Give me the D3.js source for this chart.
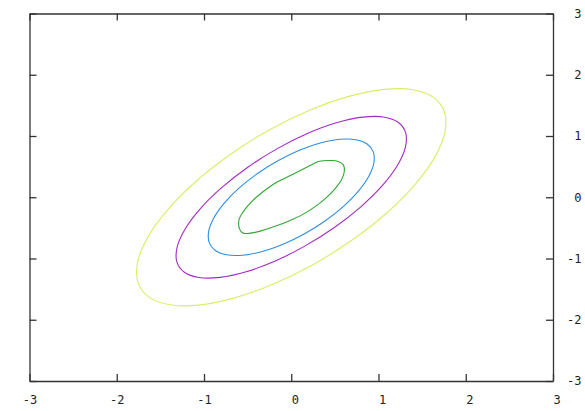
<!DOCTYPE html>
<html>
<head>
<meta charset="utf-8">
<script src="https://cdn.jsdelivr.net/npm/d3@7"></script>
<style>
  body { margin: 0; background: #fff; }
  svg { display: block; }
  .tick text { font-family: "DejaVu Sans Mono", monospace; font-size: 12px; fill: #222; }
</style>
</head>
<body>
<div id="chart"></div>
<script>
// tick values (same on both axes)
const xTicks = [-3, -2, -1, 0, 1, 2, 3];
const yTicks = [-3, -2, -1, 0, 1, 2, 3];

// contour lines, [x, y] in data units
const contourYellow = [
  [1.631, 1.631], [1.394, 1.756], [1.063, 1.761], [0.659, 1.647], [0.211, 1.420], [-0.253, 1.097],
  [-0.698, 0.698], [-1.097, 0.253], [-1.420, -0.211], [-1.647, -0.659], [-1.761, -1.063], [-1.756, -1.394],
  [-1.631, -1.631], [-1.394, -1.756], [-1.063, -1.761], [-0.659, -1.647], [-0.211, -1.420], [0.253, -1.097],
  [0.698, -0.698], [1.097, -0.253], [1.420, 0.211], [1.647, 0.659], [1.761, 1.063], [1.756, 1.394]
];
const contourPurple = [
  [1.225, 1.225], [1.055, 1.311], [0.814, 1.308], [0.517, 1.216], [0.184, 1.041], [-0.160, 0.794],
  [-0.494, 0.494], [-0.794, 0.160], [-1.041, -0.184], [-1.216, -0.517], [-1.308, -0.814], [-1.311, -1.055],
  [-1.225, -1.225], [-1.055, -1.311], [-0.814, -1.308], [-0.517, -1.216], [-0.184, -1.041], [0.160, -0.794],
  [0.494, -0.494], [0.794, -0.160], [1.041, 0.184], [1.216, 0.517], [1.308, 0.814], [1.311, 1.055]
];
const contourBlue = [
  [0.870, 0.870], [0.740, 0.940], [0.560, 0.947], [0.342, 0.889], [0.100, 0.770], [-0.148, 0.599],
  [-0.387, 0.387], [-0.599, 0.148], [-0.770, -0.100], [-0.889, -0.342], [-0.947, -0.560], [-0.940, -0.740],
  [-0.870, -0.870], [-0.740, -0.940], [-0.560, -0.947], [-0.342, -0.889], [-0.100, -0.770], [0.148, -0.599],
  [0.387, -0.387], [0.599, -0.148], [0.770, 0.100], [0.889, 0.342], [0.947, 0.560], [0.940, 0.740]
];
const contourGreen = [
  [0.31, 0.583], [0.464, 0.60], [0.539, 0.583], [0.597, 0.529], [0.608, 0.42], [0.579, 0.292],
  [0.501, 0.137], [0.387, -0.026], [0.261, -0.165], [0.123, -0.288], [-0.026, -0.386], [-0.186, -0.475],
  [-0.347, -0.549], [-0.484, -0.590], [-0.555, -0.585], [-0.593, -0.516], [-0.599, -0.369], [-0.55, -0.234],
  [-0.453, -0.07], [-0.32, 0.093], [-0.186, 0.23], [-0.034, 0.338], [0.12, 0.448], [0.234, 0.529]
];

const contours = [
  { points: contourYellow, color: "#d8ee66" },
  { points: contourPurple, color: "#a22ac6" },
  { points: contourBlue, color: "#2f8edc" },
  { points: contourGreen, color: "#2fa832" }
];

const W = 585, H = 411;
const m = { left: 29.5, right: 553, top: 13.5, bottom: 381 };

const svg = d3.select("#chart").append("svg")
  .attr("width", W)
  .attr("height", H);

const x = d3.scaleLinear().domain([-3, 3]).range([m.left, m.right]);
const y = d3.scaleLinear().domain([-3, 3]).range([m.bottom, m.top]);

// contours
const line = d3.line()
  .x((d) => x(d[0]))
  .y((d) => y(d[1]))
  .curve(d3.curveCatmullRomClosed.alpha(0.5));

svg.selectAll("path.contour")
  .data(contours)
  .join("path")
  .attr("class", "contour")
  .attr("d", (d) => line(d.points))
  .attr("fill", "none")
  .attr("stroke", (d) => d.color)
  .attr("stroke-width", 1.1);

// axes, ticks pointing inward
const fmt = (d) => (d < 0 ? "-" + Math.abs(d) : String(d));

svg.append("g")
  .attr("transform", `translate(0,${m.bottom})`)
  .call(d3.axisBottom(x).tickValues(xTicks).tickFormat(fmt).tickSize(-7).tickSizeOuter(0).tickPadding(14))
  .call((g) => g.selectAll(".tick text").attr("dx", (d) => (d < 0 ? 0 : 3.6)));

svg.append("g")
  .attr("transform", `translate(0,${m.top})`)
  .call(d3.axisTop(x).tickValues(xTicks).tickFormat("").tickSize(-7).tickSizeOuter(0));

svg.append("g")
  .attr("transform", `translate(${m.left},0)`)
  .call(d3.axisLeft(y).tickValues(yTicks).tickFormat("").tickSize(-7).tickSizeOuter(0));

svg.append("g")
  .attr("transform", `translate(${m.right},0)`)
  .call(d3.axisRight(y).tickValues(yTicks).tickFormat(fmt).tickSize(-7).tickSizeOuter(0).tickPadding(14))
  .call((g) => g.selectAll(".tick text").attr("dx", (d) => (d < 0 ? 0 : 7.2)));

svg.selectAll(".domain, .tick line")
  .attr("stroke", "#333")
  .attr("stroke-width", 1.3);
</script>
</body>
</html>
